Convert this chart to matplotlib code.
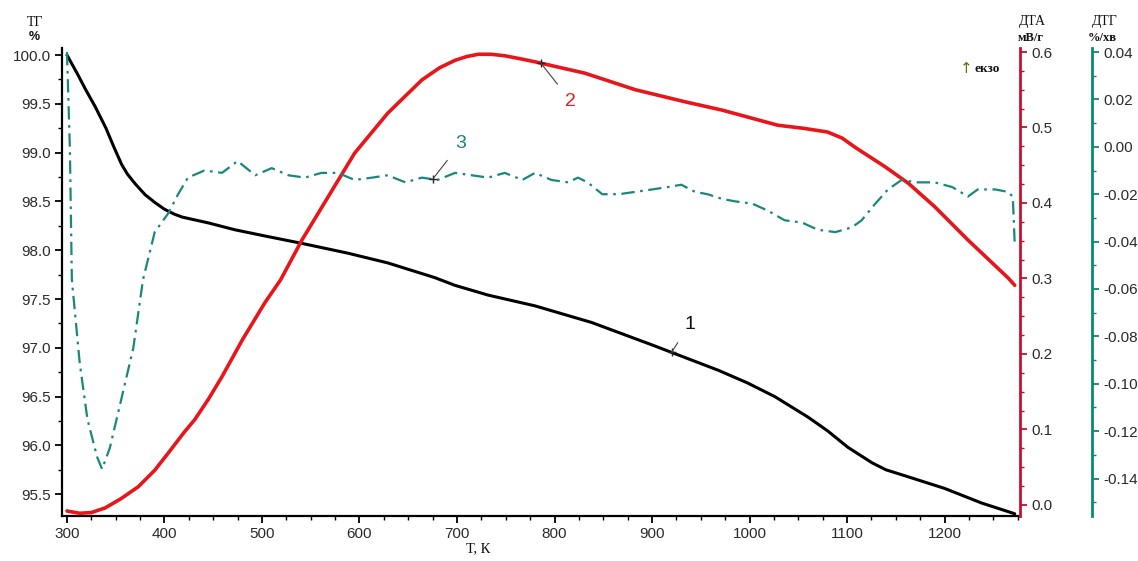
import numpy as np
import matplotlib
matplotlib.use("Agg")
import matplotlib.pyplot as plt
from matplotlib.ticker import MultipleLocator, FormatStrFormatter

# ---- data ----
T_tg = [300, 310, 320, 329, 340, 348, 356, 362, 370, 380, 390, 400, 410, 418, 445, 472,
        506, 541, 588, 629, 677, 698, 732, 780, 838, 900, 968, 998, 1026, 1060, 1080,
        1101, 1126, 1140, 1156, 1200, 1238, 1272]
tg = [100.0, 99.82, 99.63, 99.47, 99.25, 99.06, 98.88, 98.78, 98.68, 98.57, 98.49, 98.42,
      98.37, 98.34, 98.28, 98.21, 98.14, 98.07, 97.97, 97.87, 97.72, 97.64, 97.54, 97.43,
      97.26, 97.03, 96.77, 96.64, 96.50, 96.29, 96.15, 95.98, 95.82, 95.75, 95.70, 95.56,
      95.41, 95.30]

T_dta = [300, 313, 325, 339, 355, 373, 390, 404, 420, 431, 445, 459, 480, 503, 519, 541,
         572, 595, 629, 664, 682, 698, 710, 722, 735, 749, 765, 780, 831, 883, 934, 972,
         1029, 1055, 1080, 1095, 1108, 1139, 1163, 1190, 1224, 1265, 1272]
dta = [-0.008, -0.011, -0.010, -0.004, 0.008, 0.024, 0.046, 0.069, 0.096, 0.113, 0.140,
       0.170, 0.219, 0.268, 0.298, 0.351, 0.417, 0.466, 0.519, 0.563, 0.579, 0.589, 0.594,
       0.597, 0.597, 0.595, 0.591, 0.587, 0.572, 0.550, 0.534, 0.523, 0.503, 0.499, 0.494,
       0.486, 0.474, 0.448, 0.426, 0.395, 0.351, 0.301, 0.291]

T_dtg = [300, 303, 305, 313, 321, 331, 336, 344, 356, 368, 378, 390, 404, 414, 424, 441,
         459, 475, 493, 510, 527, 544, 561, 578, 595, 613, 629, 647, 664, 680, 698, 715,
         732, 749, 767, 780, 797, 814, 824, 834, 849, 866, 883, 900, 916, 930, 944, 957,
         972, 985, 1003, 1019, 1036, 1054, 1070, 1088, 1105, 1115, 1129, 1142, 1156, 1172,
         1190, 1208, 1224, 1234, 1252, 1265, 1270, 1272]
dtg = [0.040, -0.001, -0.056, -0.091, -0.115, -0.131, -0.136, -0.127, -0.106, -0.085,
       -0.056, -0.036, -0.028, -0.020, -0.013, -0.010, -0.011, -0.006, -0.012, -0.009,
       -0.012, -0.013, -0.011, -0.011, -0.014, -0.013, -0.012, -0.015, -0.013, -0.014,
       -0.011, -0.012, -0.013, -0.011, -0.014, -0.011, -0.014, -0.015, -0.013, -0.015,
       -0.020, -0.020, -0.019, -0.018, -0.017, -0.016, -0.019, -0.020, -0.022, -0.023,
       -0.024, -0.027, -0.031, -0.032, -0.035, -0.036, -0.034, -0.031, -0.024, -0.018,
       -0.014, -0.015, -0.015, -0.017, -0.021, -0.018, -0.018, -0.019, -0.021, -0.041]

# annotation temperatures (curve labels)
ann_T = {"1": 920, "2": 786, "3": 675}

# ---- styling ----
C_TG = "black"
C_DTA = "#e8161b"
C_DTA_AX = "#c8102e"
C_DTG = "#1a877c"
C_DTG_AX = "#0b8a72"
TICK_C = "#2a2a2a"
SANS = ["Liberation Sans", "DejaVu Sans"]
SERIF = ["Liberation Serif", "DejaVu Serif"]

W, H = 1138, 561
fig = plt.figure(figsize=(W / 100, H / 100), dpi=100)
L, R, B, T = 62, 1020, 516, 48
ax = fig.add_axes([L / W, 1 - B / H, (R - L) / W, (B - T) / H])
ax2 = ax.twinx()
ax3 = ax.twinx()
ax3.spines["right"].set_position(("outward", 72 * 0.72))

for a in (ax, ax2, ax3):
    a.spines["top"].set_visible(False)
ax.spines["right"].set_visible(False)
for a in (ax2, ax3):
    a.spines["left"].set_visible(False)
    a.spines["bottom"].set_visible(False)

ax.spines["left"].set_linewidth(1.6)
ax.spines["bottom"].set_linewidth(1.6)
ax2.spines["right"].set_color(C_DTA_AX)
ax2.spines["right"].set_linewidth(2.0)
ax3.spines["right"].set_color(C_DTG_AX)
ax3.spines["right"].set_linewidth(2.0)

ax.set_xlim(294.9, 1277.4)
ax.set_ylim(95.277, 100.072)
ax2.set_ylim(-0.0146, 0.6053)
ax3.set_ylim(-0.1558, 0.0417)

# curves
ax.plot(T_tg, tg, color=C_TG, lw=2.2, solid_capstyle="round", solid_joinstyle="round", zorder=3)
ax2.plot(T_dta, dta, color=C_DTA, lw=2.6, solid_capstyle="round", solid_joinstyle="round", zorder=3)
ax3.plot(T_dtg, dtg, color=C_DTG, lw=1.6, linestyle=(0, (6, 2.5, 1.2, 2.5)), zorder=2)

# ticks
ax.xaxis.set_major_locator(MultipleLocator(100))
ax.xaxis.set_minor_locator(MultipleLocator(25))
ax.yaxis.set_major_locator(MultipleLocator(0.5))
ax.yaxis.set_minor_locator(MultipleLocator(0.25))
ax.yaxis.set_major_formatter(FormatStrFormatter("%.1f"))
ax2.yaxis.set_major_locator(MultipleLocator(0.1))
ax2.yaxis.set_minor_locator(MultipleLocator(0.025))
ax2.yaxis.set_major_formatter(FormatStrFormatter("%.1f"))
ax3.yaxis.set_major_locator(MultipleLocator(0.02))
ax3.yaxis.set_minor_locator(MultipleLocator(0.01))
ax3.yaxis.set_major_formatter(FormatStrFormatter("%.2f"))

for a in (ax, ax2, ax3):
    a.tick_params(which="major", length=5, width=1.3, labelsize=11, labelcolor=TICK_C, pad=3)
    a.tick_params(which="minor", length=3, width=1.0)
    for lab in a.get_xticklabels() + a.get_yticklabels():
        lab.set_family(SANS)
ax2.tick_params(axis="y", which="both", colors=C_DTA_AX, labelcolor=TICK_C)
ax3.tick_params(axis="y", which="both", colors=C_DTG_AX, labelcolor=TICK_C)

# axis titles
fig.text(35 / W, 1 - 22 / H, "ТГ", ha="center", va="center", fontsize=10, family=SERIF, color="#111")
fig.text(34 / W, 1 - 37 / H, "%", ha="center", va="center", fontsize=9, family=SANS, weight="bold", color="#111")
fig.text(1032 / W, 1 - 22 / H, "ДТА", ha="center", va="center", fontsize=10, family=SERIF, color="#111")
fig.text(1031 / W, 1 - 38 / H, "мВ/г", ha="center", va="center", fontsize=9, family=SERIF, weight="bold", color="#111")
fig.text(1105 / W, 1 - 22 / H, "ДТГ", ha="center", va="center", fontsize=10, family=SERIF, color="#111")
fig.text(1102 / W, 1 - 38 / H, "%/хв", ha="center", va="center", fontsize=9, family=SERIF, weight="bold", color="#111")
fig.text(478 / W, 1 - 549 / H, "Т, К", ha="center", va="center", fontsize=10.5, family=SERIF, color="#111")
ax.text(0.944, 0.957, "↑", transform=ax.transAxes, ha="center", va="center",
        fontsize=11, family=["DejaVu Sans"], color="#6b6b1a")
ax.text(0.952, 0.955, "екзо", transform=ax.transAxes, ha="left", va="center",
        fontsize=9.5, family=SERIF, weight="bold", color="#111")

# curve labels
def label(axis, Tx, Tarr, Varr, txt, dx, dy, col):
    x0 = Tx
    y0 = float(np.interp(x0, Tarr, Varr))
    axis.plot([x0], [y0], marker="+", color="#222", ms=6, mew=1.0, zorder=4)
    axis.annotate(txt, xy=(x0, y0), xytext=(dx, dy), textcoords="offset pixels",
                  ha="center", va="center", fontsize=14, family=SANS, color=col,
                  arrowprops=dict(arrowstyle="-", color="#444", lw=0.8,
                                  shrinkA=6, shrinkB=0), zorder=5)

label(ax, ann_T["1"], T_tg, tg, "1", 18, 28, "#111")
label(ax2, ann_T["2"], T_dta, dta, "2", 30, -38, "#e0202a")
label(ax3, ann_T["3"], T_dtg, dtg, "3", 28, 36, C_DTG)

fig.savefig("out.png", dpi=100, facecolor="white")
